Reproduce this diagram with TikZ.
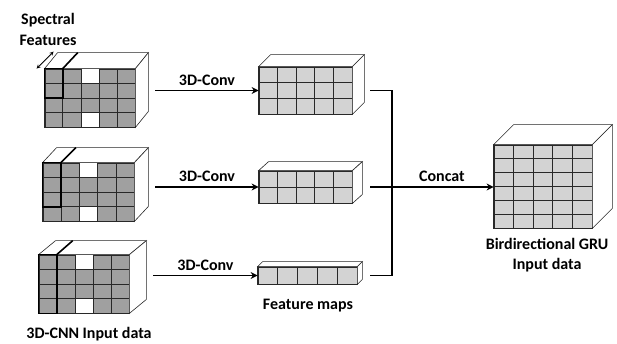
\documentclass[tikz,border=0pt]{standalone}
\usepackage{fontspec}
\setmainfont{Carlito}
\usetikzlibrary{arrows,arrows.meta,calc,positioning}
\definecolor{cellgray}{RGB}{160,160,160}
\definecolor{maplight}{RGB}{211,211,211}
\definecolor{edgedark}{RGB}{40,40,40}
\tikzset{
    % front faces of the data blocks
    inputface/.style={
        rectangle, draw=edgedark, thick, fill=cellgray,
        inner sep=0pt
    },
    mapface/.style={
        rectangle, draw=edgedark, thick, fill=maplight,
        inner sep=0pt
    },
    sideface/.style={
        draw=edgedark, fill=white, line width=0.6pt
    },
    gridline/.style={
        draw=edgedark, line width=0.8pt
    },
    bandline/.style={
        draw=black, line width=1.6pt
    },
    arrow/.style={
        -{Stealth[length=7pt, width=7pt]}, line width=1.8pt, color=black
    },
    joinline/.style={
        line width=1.8pt, color=black
    },
    cubetext/.style={
        font=\bfseries\fontsize{16}{21}\selectfont,
        text=black, align=center
    }
}

% block: name, cols, rows, depth x, depth y
\newcommand{\drawblock}[5]{
    \foreach \c in {1,...,#2}
        \draw[gridline] ($(#1.north west)!{\c/#2}!(#1.north east)$) -- ($(#1.south west)!{\c/#2}!(#1.south east)$);
    \foreach \r in {1,...,#3}
        \draw[gridline] ($(#1.north west)!{\r/#3}!(#1.south west)$) -- ($(#1.north east)!{\r/#3}!(#1.south east)$);
    \draw[edgedark, thick] (#1.north west) rectangle (#1.south east);
    \draw[sideface] (#1.north west) -- ++(#4,#5) -- ([shift={(#4,#5)}]#1.north east) -- (#1.north east) -- cycle;
    \draw[sideface] (#1.north east) -- ++(#4,#5) -- ([shift={(#4,#5)}]#1.south east) -- (#1.south east) -- cycle;
}

% white cell: name, col, row, cols, rows
\newcommand{\whitecell}[5]{
    \coordinate (cA) at ($(#1.north west)!{(#2-1)/#4}!(#1.north east)$);
    \coordinate (cB) at ($(#1.north west)!{#2/#4}!(#1.north east)$);
    \coordinate (rA) at ($(#1.north west)!{(#3-1)/#5}!(#1.south west)$);
    \coordinate (rB) at ($(#1.north west)!{#3/#5}!(#1.south west)$);
    \fill[white] (cA |- rA) rectangle (cB |- rB);
}

% spectral band: name, rows covered, cols, rows, depth x, depth y
\newcommand{\spectralband}[6]{
    \coordinate (bX) at ($(#1.north west)!{1/#3}!(#1.north east)$);
    \coordinate (bY) at ($(#1.north west)!{#2/#4}!(#1.south west)$);
    \draw[bandline] (#1.north west) rectangle (bX |- bY);
    \draw[bandline] (bX) -- ++(#5,#6);
}

\begin{document}
\begin{tikzpicture}[x=1pt, y=-1pt]
\useasboundingbox (0,0) rectangle (617,343);

% input cubes
\node[inputface, minimum width=90pt, minimum height=58pt] (in1) at (90,98) {};
\whitecell{in1}{3}{1}{5}{4}
\whitecell{in1}{3}{4}{5}{4}
\drawblock{in1}{5}{4}{13}{-16}
\spectralband{in1}{2}{5}{4}{15}{-16}

\node[inputface, minimum width=91pt, minimum height=58pt] (in2) at (88.5,192) {};
\whitecell{in2}{3}{1}{5}{4}
\whitecell{in2}{3}{4}{5}{4}
\drawblock{in2}{5}{4}{14}{-15}
\spectralband{in2}{3}{5}{4}{15}{-15}

\node[inputface, minimum width=90pt, minimum height=58pt] (in3) at (84,284) {};
\whitecell{in3}{3}{1}{5}{4}
\whitecell{in3}{3}{4}{5}{4}
\drawblock{in3}{5}{4}{17}{-14}
\spectralband{in3}{4}{5}{4}{16}{-14}

% feature maps
\node[mapface, minimum width=93pt, minimum height=47pt] (fm1) at (305.5,90.5) {};
\drawblock{fm1}{5}{3}{12}{-12}
\node[mapface, minimum width=93pt, minimum height=32pt] (fm2) at (305.5,187) {};
\drawblock{fm2}{5}{2}{10}{-9}
\node[mapface, minimum width=99pt, minimum height=17pt] (fm3) at (307.5,275.5) {};
\drawblock{fm3}{5}{1}{5}{-5}

% GRU input block
\node[mapface, minimum width=98pt, minimum height=83pt] (gru) at (543,186.5) {};
\drawblock{gru}{5}{6}{20}{-20}

% texts
\node[cubetext] (spec) at (48,29) {Spectral\\Features};
\draw[<->, >=stealth, line width=0.8pt] ([xshift=-8pt]in1.north west) -- ++(17,-17);
\node[cubetext] (intext) at (89,334) {3D-CNN Input data};
\node[cubetext] (fmtext) at (308,306) {Feature maps};
\node[cubetext, font=\bfseries\fontsize{16}{20}\selectfont] (grutext) at (547,255) {Birdirectional GRU\\Input data};

% 3D convolutions
\coordinate (in1out) at ([xshift=20pt]in1.east);
\coordinate (in2out) at ([xshift=21pt]in2.east);
\coordinate (in3out) at ([xshift=24pt]in3.east);
\draw[arrow] (in1out |- fm1.west) -- node[cubetext, above=1pt] {3D-Conv} (fm1.west);
\draw[arrow] (in2out |- fm2.west) -- node[cubetext, above=1pt] {3D-Conv} (fm2.west);
\draw[arrow] (in3out |- fm3.west) -- node[cubetext, above=1pt] {3D-Conv} (fm3.west);

% concatenation
\coordinate (fm1out) at ([xshift=18pt]fm1.east);
\coordinate (fm2out) at ([xshift=18pt]fm2.east);
\coordinate (fm3out) at ([xshift=13pt]fm3.east);
\coordinate (join) at (392,187);
\draw[joinline] (fm1out) -| (join) |- (fm3out);
\draw[arrow] (fm2out) -- node[cubetext, above=1pt, pos=0.58] {Concat} (fm2out -| gru.west);

\end{tikzpicture}
\end{document}
